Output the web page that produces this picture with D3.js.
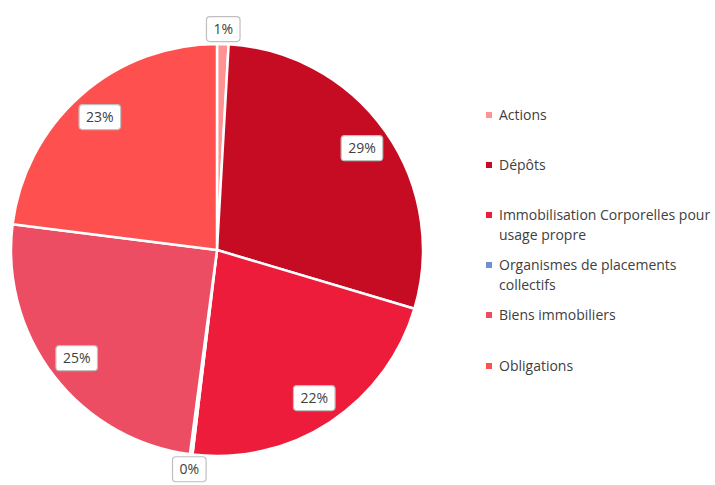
<!DOCTYPE html>
<html><head><meta charset="utf-8">
<script src="https://cdn.jsdelivr.net/npm/d3@7/dist/d3.min.js"></script>
<style>body{margin:0;background:#fff}svg{display:block;font-family:"Open Sans","Noto Sans",sans-serif}</style>
</head><body>
<svg id="chart" width="715" height="485"></svg>
<script>
const categories = ["Actions","Dépôts","Immobilisation Corporelles pour usage propre","Organismes de placements collectifs","Biens immobiliers","Obligations"];
const legendLines = [["Actions"],["Dépôts"],["Immobilisation Corporelles pour","usage propre"],["Organismes de placements","collectifs"],["Biens immobiliers"],["Obligations"]];
const values = [0.9, 28.7, 22.3, 0.2, 24.9, 23.0];
const labels = ["1%","29%","22%","0%","25%","23%"];
const colors = ["#FF9393","#C60C23","#ED1C3A","#6E8FD6","#EC4D63","#FF5050"];

const svg = d3.select("#chart");
const cx = 217, cy = 250, r = 206;
const data = categories.map((c,i)=>({c, v:values[i], label:labels[i], color:colors[i], lines:legendLines[i]}));
const pie = d3.pie().value(d=>d.v).sort(null);
const arcs = pie(data);
const arc = d3.arc().innerRadius(0).outerRadius(r);
const g = svg.append("g").attr("transform",`translate(${cx},${cy})`);
g.selectAll("path").data(arcs).join("path")
  .attr("d",arc).attr("fill",d=>d.data.color)
  .attr("stroke","#fff").attr("stroke-width",2.5).attr("stroke-linejoin","round");

// labels
arcs.forEach(a=>{
  const mid=(a.startAngle+a.endAngle)/2;
  const small = a.data.v < 2;
  const dist = small ? r+15 : r*0.86;
  const x = Math.sin(mid)*dist, y = -Math.cos(mid)*dist;
  const lg = g.append("g").attr("transform",`translate(${x},${y})`);
  const t = lg.append("text").attr("text-anchor","middle").attr("dy","0.35em")
    .attr("font-size",14).attr("fill","#404040").text(a.data.label);
  const w = t.node().getComputedTextLength();
  lg.insert("rect","text").attr("x",-w/2-7).attr("y",-12.5).attr("width",w+14).attr("height",25)
    .attr("rx",3.5).attr("fill","#fff").attr("stroke","#BFBFBF").attr("stroke-width",1.2);
});

// legend
const legendY = [115,165,215,265,315,366];
const leg = svg.append("g");
data.forEach((d,i)=>{
  const y = legendY[i];
  leg.append("rect").attr("x",486).attr("y",y-3).attr("width",6).attr("height",6).attr("fill",d.color);
  d.lines.forEach((ln,j)=>{
    leg.append("text").attr("x",499).attr("y",y+j*20).attr("dy","0.35em")
      .attr("font-size",14).attr("fill","#404040").text(ln);
  });
});
</script>
</body></html>
